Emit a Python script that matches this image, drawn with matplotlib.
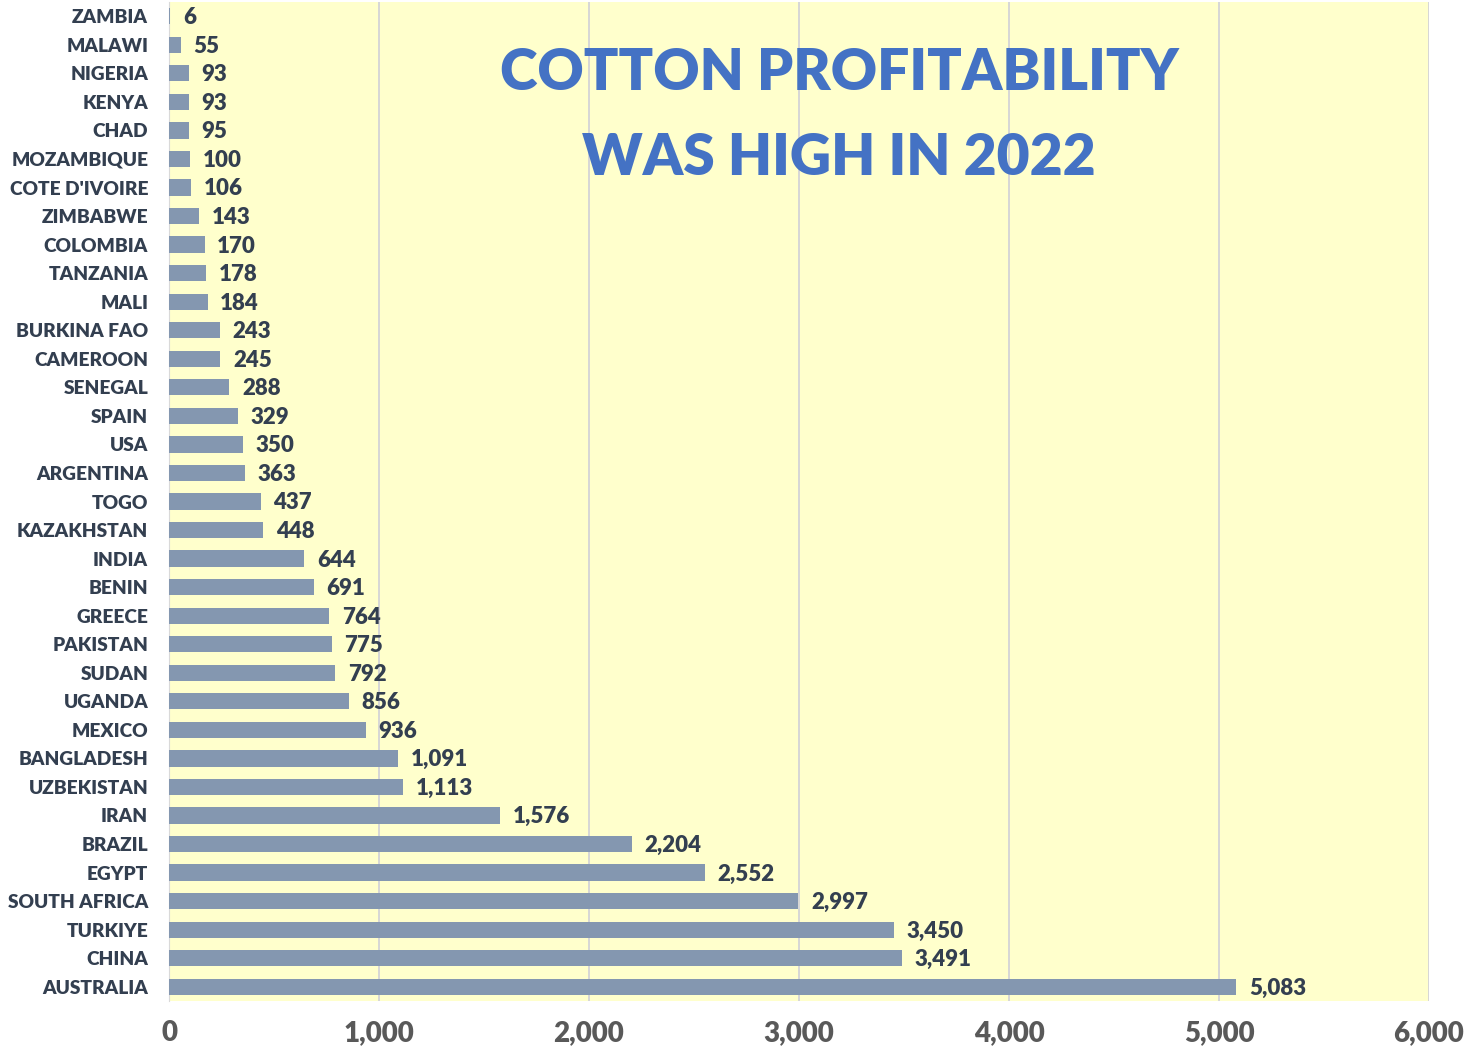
import matplotlib.pyplot as plt
from matplotlib.ticker import FuncFormatter

countries = ["ZAMBIA", "MALAWI", "NIGERIA", "KENYA", "CHAD", "MOZAMBIQUE", "COTE D'IVOIRE",
             "ZIMBABWE", "COLOMBIA", "TANZANIA", "MALI", "BURKINA FAO", "CAMEROON", "SENEGAL",
             "SPAIN", "USA", "ARGENTINA", "TOGO", "KAZAKHSTAN", "INDIA", "BENIN", "GREECE",
             "PAKISTAN", "SUDAN", "UGANDA", "MEXICO", "BANGLADESH", "UZBEKISTAN", "IRAN",
             "BRAZIL", "EGYPT", "SOUTH AFRICA", "TURKIYE", "CHINA", "AUSTRALIA"]
values = [6, 55, 93, 93, 95, 100, 106, 143, 170, 178, 184, 243, 245, 288, 329, 350, 363,
          437, 448, 644, 691, 764, 775, 792, 856, 936, 1091, 1113, 1576, 2204, 2552, 2997,
          3450, 3491, 5083]
xticks = [0, 1000, 2000, 3000, 4000, 5000, 6000]

plt.rcParams['font.family'] = ['Lato', 'DejaVu Sans']

fig = plt.figure(figsize=(14.76, 10.46), dpi=100)
ax = fig.add_axes([169/1476, 1 - 1001/1046, 1260/1476, 999/1046])
ax.set_facecolor('#FFFFCC')

ypos = list(range(len(countries)))
ax.barh(ypos, values, height=0.57, color='#8497B0', zorder=3)
for y, v in zip(ypos, values):
    ax.text(v + 60, y + 0.05, f"{v:,}", va='center', ha='left', fontsize=16,
            fontweight='heavy', color='#333F50', zorder=4)

ax.set_ylim(len(countries) - 0.5, -0.5)
ax.set_yticks(ypos)
ax.set_yticklabels(countries, fontsize=13.8, fontweight='heavy', color='#333F50')
ax.set_xlim(0, 6000)
ax.set_xticks(xticks)
ax.xaxis.set_major_formatter(FuncFormatter(lambda x, p: f"{int(x):,}"))
for lab in ax.get_xticklabels():
    lab.set_fontsize(20)
    lab.set_fontweight('heavy')
    lab.set_color('#595959')
ax.tick_params(axis='both', length=0)
ax.tick_params(axis='y', pad=15)
ax.tick_params(axis='x', pad=14)
ax.grid(axis='x', color='#D0D0D8', linewidth=1.2, zorder=1)
for s in ['top', 'right', 'bottom']:
    ax.spines[s].set_visible(False)
ax.spines['left'].set_color('#D9D9D9')

ax.text(3190, 2.0, "COTTON PROFITABILITY", ha='center', va='center', fontsize=41,
        fontweight='heavy', color='#4472C4', zorder=5)
ax.text(3190, 4.95, "WAS HIGH IN 2022", ha='center', va='center', fontsize=41,
        fontweight='heavy', color='#4472C4', zorder=5)

fig.savefig('out.png', dpi=100)
